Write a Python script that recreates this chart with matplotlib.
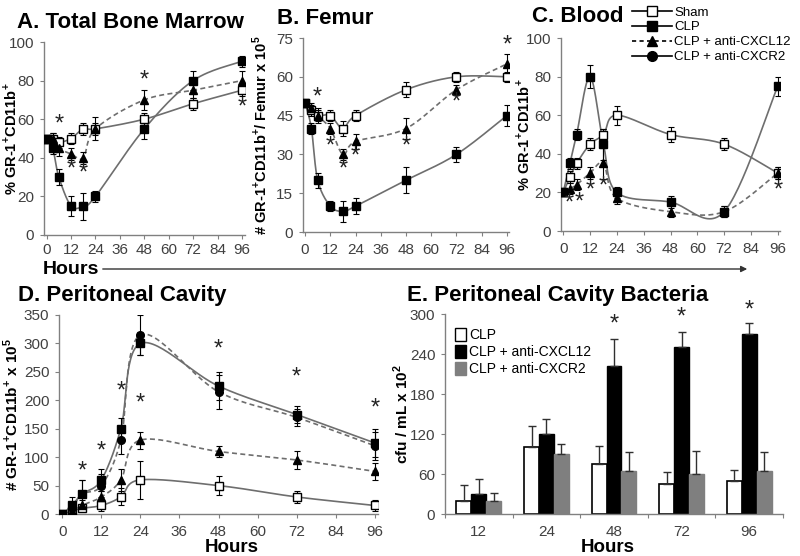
import matplotlib
matplotlib.use('Agg')
import matplotlib.pyplot as plt
from matplotlib.lines import Line2D
from matplotlib.patches import Patch, FancyArrowPatch
import numpy as np

plt.rcParams['font.family'] = ['Liberation Sans', 'DejaVu Sans']
plt.rcParams['mathtext.fontset'] = 'custom'
plt.rcParams['mathtext.rm'] = 'Liberation Sans:bold'
plt.rcParams['mathtext.bf'] = 'Liberation Sans:bold'

W, H = 800, 556
LINE = '#6e6e6e'
TICK = '#808080'
TXT = '#404040'

hours = [0, 3, 6, 12, 18, 24, 48, 72, 96]

# A. Total bone marrow (% GR-1+CD11b+)
bm_sham = [50, 50, 48, 50, 55, 55, 60, 68, 75]
bm_sham_err = [2, 3, 3, 3, 3, 3, 3, 3, 3]
bm_clp = [50, 45, 30, 15, 15, 20, 55, 80, 90]
bm_clp_err = [2, 3, 4, 5, 7, 3, 5, 5, 3]
bm_cxcl12 = [50, 50, 45, 42, 40, 55, 70, 75, 80]
bm_cxcl12_err = [2, 3, 4, 3, 3, 6, 5, 4, 5]
bm_stars = [(6, 57), (12, 34), (18, 32), (48, 80), (96, 66)]

# B. Femur (# x 10^5)
fe_sham = [50, 47, 45, 45, 40, 45, 55, 60, 60]
fe_sham_err = [1, 2, 2, 2, 3, 2, 3, 2, 2]
fe_clp = [50, 40, 20, 10, 8, 10, 20, 30, 45]
fe_clp_err = [1, 2, 3, 2, 4, 3, 5, 3, 4]
fe_cxcl12 = [50, 48, 45, 40, 30, 35, 40, 55, 65]
fe_cxcl12_err = [1, 2, 3, 2, 2, 3, 4, 2, 4]
fe_stars = [(6, 52), (12, 33), (18, 24), (24, 29), (48, 33), (72, 50), (96, 72)]

# C. Blood (% GR-1+CD11b+)
bl_sham = [20, 28, 35, 45, 50, 60, 50, 45, 30]
bl_sham_err = [2, 3, 3, 3, 3, 5, 4, 3, 3]
bl_clp = [20, 35, 50, 80, 45, 20, 15, 10, 75]
bl_clp_err = [2, 3, 3, 6, 8, 3, 3, 3, 5]
bl_cxcl12 = [20, 22, 24, 30, 35, 17, 10, 10, 30]
bl_cxcl12_err = [2, 3, 3, 3, 8, 3, 3, 3, 3]
bl_stars = [(2.5, 14), (7, 15), (12, 21), (18, 23), (96, 21)]

# D. Peritoneal cavity (# x 10^5)
pc_sham = [0, 5, 10, 15, 30, 60, 50, 30, 15]
pc_sham_err = [2, 3, 5, 10, 15, 33, 16, 10, 10]
pc_clp = [0, 15, 35, 60, 150, 300, 225, 175, 125]
pc_clp_err = [2, 15, 25, 20, 18, 20, 25, 15, 25]
pc_cxcl12 = [0, 5, 15, 30, 60, 130, 110, 95, 75]
pc_cxcl12_err = [2, 5, 10, 10, 20, 15, 10, 15, 15]
pc_cxcr2 = [0, 10, 35, 50, 130, 315, 215, 170, 120]
pc_cxcr2_err = [2, 10, 25, 20, 25, 35, 30, 15, 25]
pc_stars = [(6, 75), (12, 110), (18, 215), (24, 195), (48, 290), (72, 240), (96, 185)]

# E. Peritoneal cavity bacteria (cfu/mL x 10^2)
bac_hours = ['12', '24', '48', '72', '96']
bac_clp = [20, 100, 75, 45, 50]
bac_clp_err = [23, 32, 27, 18, 16]
bac_cxcl12 = [30, 120, 222, 250, 270]
bac_cxcl12_err = [22, 22, 40, 23, 16]
bac_cxcr2 = [20, 90, 65, 60, 65]
bac_cxcr2_err = [12, 15, 28, 34, 28]
bac_stars = [(2, 284), (3, 295), (4, 305)]


def px_axes(fig, l, t, r, b):
    return fig.add_axes([l / W, 1 - b / H, (r - l) / W, (b - t) / H])


def catmull(x, y, n=30):
    """Excel-like smoothed line through the points."""
    p = np.column_stack([x, y]).astype(float)
    p = np.vstack([p[0], p, p[-1]])
    t = np.linspace(0, 1, n)[:, None]
    out = []
    for i in range(1, len(p) - 2):
        p0, p1, p2, p3 = p[i - 1], p[i], p[i + 1], p[i + 2]
        seg = 0.5 * (2 * p1 + (-p0 + p2) * t + (2 * p0 - 5 * p1 + 4 * p2 - p3) * t ** 2
                     + (-p0 + 3 * p1 - 3 * p2 + p3) * t ** 3)
        out.append(seg)
    out = np.vstack(out)
    return out[:, 0], out[:, 1]


def series(ax, x, y, err, marker, fill, dashed=False, ms=5.5):
    sx, sy = catmull(x, y)
    ax.plot(sx, sy, color=LINE, lw=1.2, ls=(0, (3, 2)) if dashed else '-', zorder=2)
    ax.errorbar(x, y, yerr=err, fmt='none', ecolor='black', elinewidth=0.8,
                capsize=2, capthick=0.8, zorder=3)
    ax.plot(x, y, ls='none', marker=marker, ms=ms, mfc=fill, mec='black',
            mew=1, zorder=4)


def style(ax, xlim, ylim, yticks):
    for s in ['top', 'right']:
        ax.spines[s].set_visible(False)
    for s in ['left', 'bottom']:
        ax.spines[s].set_color(TICK)
        ax.spines[s].set_linewidth(1)
    ax.set_xlim(*xlim)
    ax.set_ylim(*ylim)
    ax.set_yticks(yticks)
    ax.tick_params(direction='out', length=3, color=TICK, labelcolor=TXT,
                   labelsize=11)
    ax.tick_params(axis='x', pad=5)
    ax.tick_params(axis='y', pad=4)


def stars(ax, pts):
    for x, y in pts:
        ax.text(x, y, '*', ha='center', va='center', fontsize=17,
                color='#222222', clip_on=False, zorder=5)


def title(x, y, s):
    fig.text(x / W, 1 - y / H, s, fontsize=16, fontweight='bold',
             ha='left', va='center')


fig = plt.figure(figsize=(W / 100, H / 100), dpi=100)
fig.patch.set_facecolor('white')

ylab = dict(fontsize=10.5, fontweight='bold', color='black')

# A
axA = px_axes(fig, 44, 42, 245, 235)
series(axA, hours, bm_sham, bm_sham_err, 's', 'white')
series(axA, hours, bm_clp, bm_clp_err, 's', 'black')
series(axA, hours, bm_cxcl12, bm_cxcl12_err, '^', 'black', dashed=True)
stars(axA, bm_stars)
style(axA, (-1.3, 97.5), (0, 100), range(0, 101, 20))
axA.set_xticks(range(0, 97, 12))
axA.tick_params(axis='x', pad=3)
axA.set_ylabel('% GR-1$^{+}$CD11b$^{+}$', **ylab)
axA.yaxis.set_label_coords((19 - 44) / 201, 0.5)
title(17, 22, 'A. Total Bone Marrow')

# B
axB = px_axes(fig, 303, 38, 509, 232)
series(axB, hours, fe_sham, fe_sham_err, 's', 'white')
series(axB, hours, fe_clp, fe_clp_err, 's', 'black')
series(axB, hours, fe_cxcl12, fe_cxcl12_err, '^', 'black', dashed=True)
stars(axB, fe_stars)
style(axB, (-1, 97), (0, 75), range(0, 76, 15))
axB.set_xticks(range(0, 97, 12))
axB.set_ylabel('# GR-1$^{+}$CD11b$^{+}$/ Femur x 10$^{5}$', **ylab)
axB.yaxis.set_label_coords((270 - 303) / 206, 0.5)
title(277, 18, 'B. Femur')

# C
axC = px_axes(fig, 561, 38, 780, 231)
series(axC, hours, bl_sham, bl_sham_err, 's', 'white')
series(axC, hours, bl_clp, bl_clp_err, 's', 'black')
series(axC, hours, bl_cxcl12, bl_cxcl12_err, '^', 'black', dashed=True)
stars(axC, bl_stars)
style(axC, (-1, 97), (0, 100), range(0, 101, 20))
axC.set_xticks(range(0, 97, 12))
axC.set_ylabel('% GR-1$^{+}$CD11b$^{+}$', **ylab)
axC.yaxis.set_label_coords((532 - 561) / 219, 0.5)
title(532, 17, 'C. Blood')

handles = [
    Line2D([], [], color='black', lw=1.2, marker='s', ms=7, mfc='white', mec='black'),
    Line2D([], [], color='black', lw=1.2, marker='s', ms=7, mfc='black', mec='black'),
    Line2D([], [], color='black', lw=1.2, ls=(0, (2.5, 2)), marker='^', ms=7, mfc='black', mec='black'),
    Line2D([], [], color='black', lw=1.2, marker='o', ms=7, mfc='black', mec='black'),
]
fig.legend(handles, ['Sham', 'CLP', 'CLP + anti-CXCL12', 'CLP + anti-CXCR2'],
           loc='upper left', bbox_to_anchor=(627 / W, 1 - 1 / H), frameon=False,
           fontsize=9.5, handlelength=3.0, handletextpad=0.2, labelspacing=0.2,
           borderaxespad=0)

# Hours arrow under the top row
fig.text(43 / W, 1 - 270 / H, 'Hours', fontsize=14, fontweight='bold',
         ha='left', va='center')
fig.add_artist(FancyArrowPatch(
    (100 / W, 1 - 269 / H), (750 / W, 1 - 269 / H), transform=fig.transFigure,
    arrowstyle='-|>', mutation_scale=9, color='#333333', lw=1))

# D
axD = px_axes(fig, 59, 315, 378, 514)
series(axD, hours, pc_sham, pc_sham_err, 's', 'white')
series(axD, hours, pc_cxcl12, pc_cxcl12_err, '^', 'black', dashed=True)
series(axD, hours, pc_cxcr2, pc_cxcr2_err, 'o', 'black', dashed=True)
series(axD, hours, pc_clp, pc_clp_err, 's', 'black')
stars(axD, pc_stars)
style(axD, (-1, 97), (0, 350), range(0, 351, 50))
axD.set_xticks(range(0, 97, 12))
axD.set_ylabel('# GR-1$^{+}$CD11b$^{+}$ x 10$^{5}$', fontsize=11, fontweight='bold')
axD.yaxis.set_label_coords((21 - 59) / 319, 0.5)
fig.text(232 / W, 1 - 547 / H, 'Hours', fontsize=13.5, fontweight='bold',
         ha='center', va='center')
title(18, 295, 'D. Peritoneal Cavity')

# E
axE = px_axes(fig, 445, 314, 783, 514)
xs = np.arange(len(bac_hours))
bw = 0.22
zeros = [0] * len(xs)
ekw = dict(ecolor='#303030', elinewidth=1, capsize=3)
axE.bar(xs - bw, bac_clp, bw, color='white', edgecolor='black', lw=1.2,
        yerr=[zeros, bac_clp_err], error_kw=ekw)
axE.bar(xs, bac_cxcl12, bw, color='black', edgecolor='black', lw=1,
        yerr=[zeros, bac_cxcl12_err], error_kw=ekw)
axE.bar(xs + bw, bac_cxcr2, bw, color='#7f7f7f', edgecolor='#7f7f7f', lw=1,
        yerr=[zeros, bac_cxcr2_err], error_kw=ekw)
stars(axE, bac_stars)
style(axE, (-0.5, len(xs) - 0.5), (0, 300), range(0, 301, 60))
axE.set_xticks(np.arange(-0.5, len(xs), 1))
axE.set_xticklabels([])
axE.set_xticks(xs, minor=True)
axE.set_xticklabels(bac_hours, minor=True)
axE.tick_params(axis='x', which='minor', length=0, labelsize=11,
                labelcolor=TXT, pad=8)
axE.set_ylabel('cfu / mL x 10$^{2}$', fontsize=11, fontweight='bold')
axE.yaxis.set_label_coords((411 - 445) / 338, 0.5)
fig.text(608 / W, 1 - 547 / H, 'Hours', fontsize=13.5, fontweight='bold',
         ha='center', va='center')
axE.legend([Patch(facecolor='white', edgecolor='black'),
            Patch(facecolor='black', edgecolor='black'),
            Patch(facecolor='#7f7f7f', edgecolor='#7f7f7f')],
           ['CLP', 'CLP + anti-CXCL12', 'CLP + anti-CXCR2'],
           loc='upper left', bbox_to_anchor=(4 / 338, 1 - 8 / 200), frameon=False,
           fontsize=10, handlelength=0.8, handleheight=1.1,
           handletextpad=0.25, labelspacing=0.2, borderaxespad=0)
title(407, 295, 'E. Peritoneal Cavity Bacteria')

fig.savefig('out.png', dpi=100)
